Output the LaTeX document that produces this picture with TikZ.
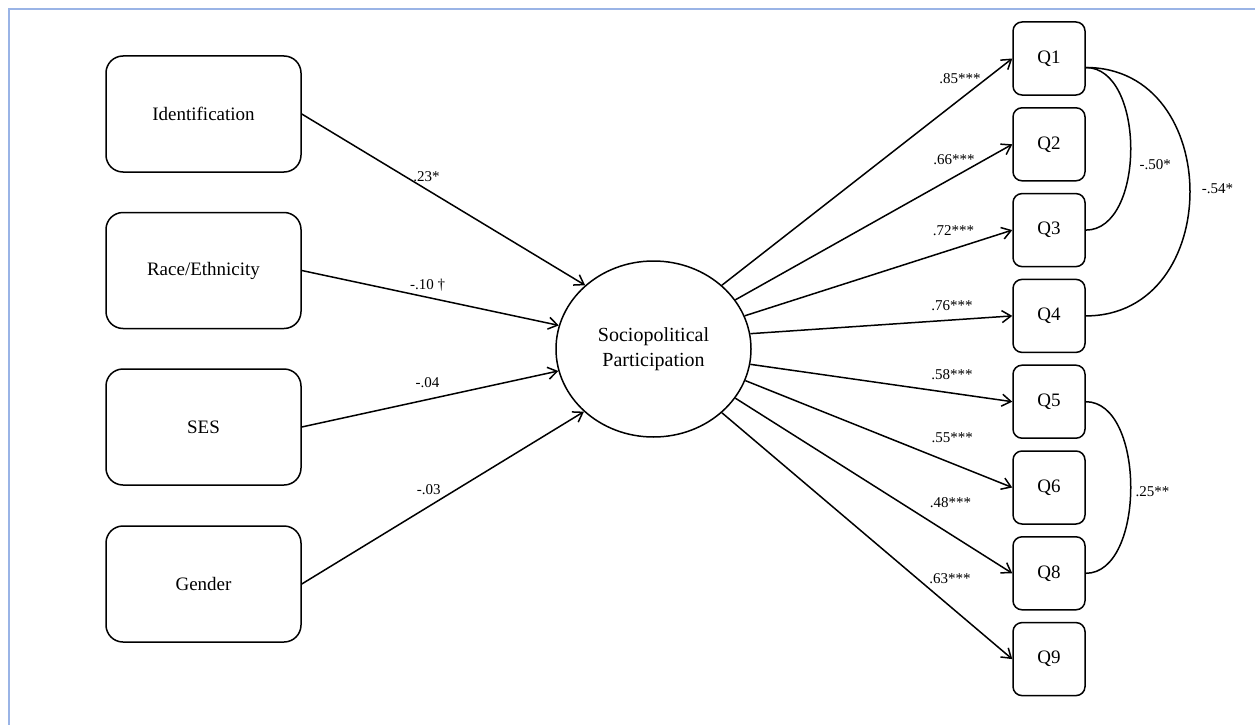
\documentclass[tikz,border=0pt]{standalone}
\usepackage{fontspec}
\setmainfont{Liberation Serif}
\usetikzlibrary{shapes.geometric,arrows.meta}
\definecolor{frameblue}{RGB}{154,180,230}
\begin{document}
\begin{tikzpicture}[x=1pt,y=-1pt,line width=1.5pt,
  predictor/.style={draw, rounded corners=17pt, minimum width=195pt, minimum height=116pt, font=\fontsize{19}{23}\selectfont},
  itembox/.style={draw, rounded corners=9pt, minimum width=72pt, minimum height=73pt, font=\fontsize{19}{22}\selectfont},
  latent/.style={draw, ellipse, minimum width=195pt, minimum height=176pt, inner sep=0pt, align=center, font=\fontsize{20}{25}\selectfont},
  load/.style={-{Straight Barb[length=9pt,width=12pt]}},
  coef/.style={font=\fontsize{15}{17}\selectfont, inner sep=0pt}]
\useasboundingbox (0,0) rectangle (1255,725);
\draw [frameblue, line width=2pt] (9,725) -- (9,9) -- (1255,9);

% predictors
\node [predictor] (ident) at (203.5,114) {Identification};
\node [predictor] (race) at (203.5,270.5) {Race/Ethnicity};
\node [predictor] (ses) at (203.5,427) {SES};
\node [predictor] (gender) at (203.5,584) {Gender};

\node [latent] (spp) at (653.5,349) {Sociopolitical\\Participation};

% items
\foreach \q [count=\i from 0] in {1,2,3,4,5,6,8,9}
  \node [itembox] (q\q) at (1049,58.5+85.8*\i) {Q\q};

\draw [load] (ident.east) -- (spp.137.5) node[coef, pos=.44, yshift=13pt] {.23*};
\draw [load] (race.east) -- (spp.166.5) node[coef, pos=.49, yshift=12pt] {-.10 †};
\draw [load] (ses.east) -- (spp.193.5) node[coef, pos=.49, yshift=17pt] {-.04};
\draw [load] (gender.east) -- (spp.222.5) node[coef, pos=.45, yshift=17pt] {-.03};

\foreach \q/\a/\p/\s/\v in {1/43/.82/21/.85***, 2/31.5/.79/17/.66***, 3/20.4/.78/18/.72***,
    4/9.3/.77/14/.76***, 5/-9.3/.77/18/.58***, 6/-19/.775/26/.55***,
    8/-31.5/.777/32/.48***, 9/-43/.786/28/.63***}
  \draw [load] (spp.\a) -- (q\q.west) node[coef, pos=\p, yshift=\s pt] {\v};

% residual correlations
\draw ([yshift=-9pt]q1.east) .. controls +(60,0) and +(60,0) .. (q3.east)
  node[coef, pos=.5, anchor=west, xshift=8pt, yshift=-16pt] {-.50*};
\draw ([yshift=-9pt]q1.east) .. controls +(139,0) and +(139,0) .. (q4.east)
  node[coef, pos=.5, anchor=west, xshift=11pt, yshift=3pt] {-.54*};
\draw (q5.east) .. controls +(60,0) and +(60,0) .. (q8.east)
  node[coef, pos=.5, anchor=west, xshift=4pt, yshift=-4.5pt] {.25**};
\end{tikzpicture}
\end{document}
